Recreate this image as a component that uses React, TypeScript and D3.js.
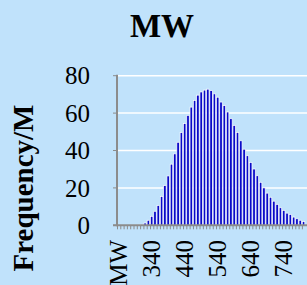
import React, { useEffect } from 'react';
import * as d3 from 'd3';

// categories: first cell is the header "MW", then 250..800
const categories: string[] = ['MW'].concat(d3.range(250, 810, 10).map(String));

const frequency: number[] = [
  0, 0, 0, 0, 0.05, 0.1, 0.2, 0.4, 1.2, 2.7,
  4.8, 7.5, 10.6, 15.4, 21.2, 26.4, 32.7, 38.2, 44.4, 49.6,
  54.4, 58.8, 63.2, 66.8, 69.6, 71.3, 72.3, 72.8, 72.0, 70.3,
  68.5, 65.9, 64, 60.6, 57, 53.4, 49.7, 45.2, 40.7, 37.2,
  33.6, 30.1, 26.5, 23, 20, 17.2, 15, 12.9, 11.2, 9.4,
  8, 6.5, 5.8, 4.4, 3.5, 2.7, 2,
];

const yTicks: number[] = [0, 20, 40, 60, 80];
const xLabels: string[] = ['MW', '340', '440', '540', '640', '740'];

const W = 307;
const H = 285;
const font = '"Liberation Serif", "Times New Roman", serif';

export default function App() {
  useEffect(() => {
    document.body.style.margin = '0';
  }, []);

  const x = d3.scaleBand<string>().domain(categories).range([117, 305.2]).padding(0);
  const y = d3.scaleLinear().domain([0, 80]).range([225.3, 75.7]);
  const bw = x.bandwidth();

  return (
    <svg width={W} height={H} style={{ display: 'block', background: '#C0E2FB' }}>
      <rect x={0} y={0} width={W} height={H} fill="#C0E2FB" />

      <text x={162} y={37} textAnchor="middle" fontFamily={font} fontWeight="bold" fontSize={33}>MW</text>

      <text
        transform={`translate(33,188) rotate(-90)`}
        textAnchor="middle"
        fontFamily={font}
        fontWeight="bold"
        fontSize={29}
      >
        Frequency/M
      </text>

      {/* gridlines */}
      {yTicks.filter(t => t > 0).map(t => (
        <line key={'g' + t} x1={117} x2={307} y1={y(t)} y2={y(t)} stroke="#ffffff" strokeWidth={1.5} />
      ))}

      {/* bars */}
      {frequency.map((v, i) => (
        <rect
          key={'b' + i}
          x={(x(categories[i]) as number) + 0.4}
          y={y(v)}
          width={bw - 0.8}
          height={Math.max(0, y(0) - y(v))}
          fill="#0A0AC8"
          stroke="#ffffff"
          strokeWidth={0.7}
        />
      ))}

      {/* y axis */}
      <line x1={117} x2={117} y1={y(80) - 1} y2={y(0) + 1} stroke="#8C8C8C" strokeWidth={2} />
      {yTicks.map(t => (
        <g key={'y' + t}>
          <line x1={113} x2={117} y1={y(t)} y2={y(t)} stroke="#8C8C8C" strokeWidth={1} />
          <text x={90} y={y(t)} dy="0.35em" textAnchor="end" fontFamily={font} fontSize={25}>{t}</text>
        </g>
      ))}

      {/* x axis */}
      <line x1={113} x2={307} y1={y(0)} y2={y(0)} stroke="#8C8C8C" strokeWidth={2} />
      {categories.map((c, i) => (
        <line
          key={'xt' + i}
          x1={(x(c) as number) + 0.5}
          x2={(x(c) as number) + 0.5}
          y1={y(0)}
          y2={y(0) + 4}
          stroke="#8C8C8C"
          strokeWidth={1}
        />
      ))}
      {xLabels.map(l => (
        <text
          key={'xl' + l}
          transform={`translate(${(x(l) as number) + bw / 2},240) rotate(-90)`}
          dy="0.35em"
          textAnchor="end"
          fontFamily={font}
          fontSize={25}
        >
          {l}
        </text>
      ))}
    </svg>
  );
}
